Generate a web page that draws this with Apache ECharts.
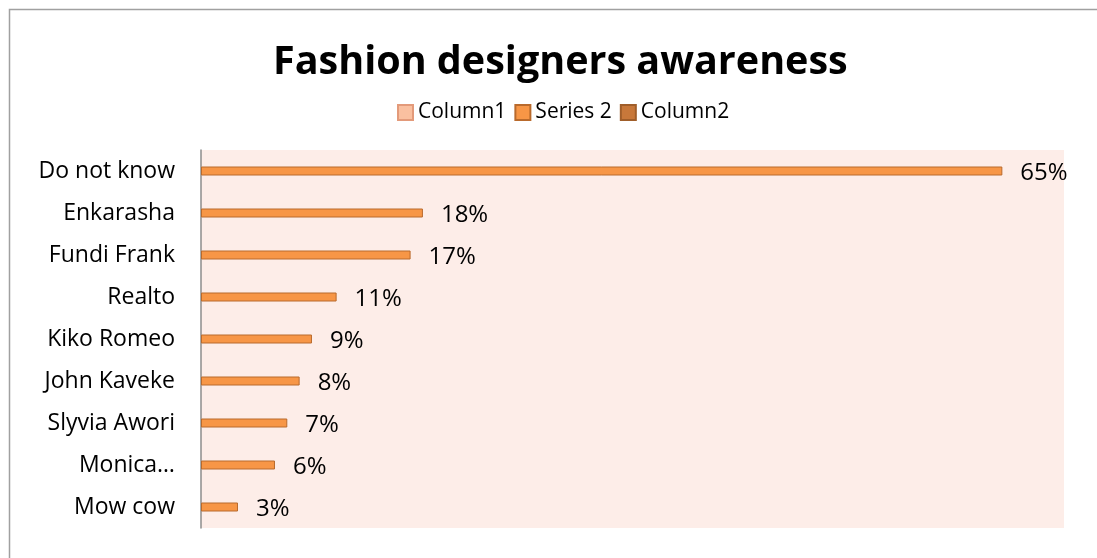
<!DOCTYPE html>
<html><head><meta charset="utf-8">
<script src="https://cdn.jsdelivr.net/npm/echarts@6/dist/echarts.min.js"></script>
<style>html,body{margin:0;padding:0;background:#fff}#c{width:1097px;height:558px}</style>
</head><body><div id="c"></div>
<script>
const categories = ["Do not know","Enkarasha","Fundi Frank","Realto","Kiko Romeo","John Kaveke","Slyvia Awori","Monica…","Mow cow"];
const series2 = [65,18,17,11,9,8,7,6,3];
const legendNames = ["Column1","Series 2","Column2"];
const FONT = "'Open Sans', 'Noto Sans', sans-serif";
const chart = echarts.init(document.getElementById('c'));
chart.setOption({
  animation:false,
  backgroundColor:'#fff',
  graphic:[{type:'rect',shape:{x:9.5,y:9.5,width:1200,height:700},style:{fill:'none',stroke:'#a0a0a0',lineWidth:1.5},silent:true}],
  title:{text:'Fashion designers awareness',left:268,top:38,textStyle:{fontFamily:FONT,fontWeight:'bold',fontSize:39.5,color:'#000'}},
  legend:{top:97,left:392,itemWidth:15,itemHeight:15,itemGap:8,icon:'rect',
    textStyle:{fontFamily:FONT,fontSize:21,color:'#000'},data:legendNames},
  grid:{left:201,top:150,width:863,height:378,show:true,backgroundColor:'#FDEDE8',borderWidth:0},
  xAxis:{type:'value',min:0,max:70,show:false,splitLine:{show:false}},
  yAxis:{type:'category',data:categories,inverse:true,
    axisLine:{show:true,lineStyle:{color:'#8c8c8c',width:1.5}},axisTick:{show:false},
    axisLabel:{fontFamily:FONT,fontSize:23,color:'#000',margin:26}},
  series:[
    {name:'Column1',type:'bar',data:[],barWidth:9,barGap:'-100%',itemStyle:{color:'#FAC0A0',borderColor:'#E39A7A',borderWidth:1}},
    {name:'Series 2',type:'bar',data:series2,barWidth:9,barGap:'-100%',
      itemStyle:{color:'#F79646',borderColor:'#B96A2C',borderWidth:1},
      label:{show:true,position:'right',distance:18,offset:[0,2],formatter:'{c}%',fontFamily:FONT,fontSize:24,color:'#000'}},
    {name:'Column2',type:'bar',data:[],barWidth:9,barGap:'-100%',itemStyle:{color:'#C8783A',borderColor:'#A05E2A',borderWidth:1}}
  ]
});
</script></body></html>
